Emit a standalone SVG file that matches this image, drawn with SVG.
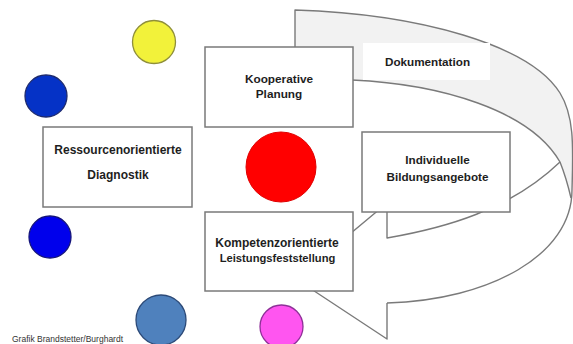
<svg xmlns="http://www.w3.org/2000/svg" width="573" height="344" viewBox="0 0 573 344">
  <style>
    .line { fill: none; stroke: #7a7a7a; stroke-width: 1.4; stroke-linejoin: round; }
    .box { fill: #ffffff; stroke: #7a7a7a; stroke-width: 1.5; }
    .lbl { font-family: "Liberation Sans", Arial, sans-serif; font-weight: bold; fill: #1e1e1e; text-anchor: middle; }
    .foot { font-family: "Liberation Sans", Arial, sans-serif; fill: #333333; font-size: 8.5px; }
  </style>
  <rect x="0" y="0" width="573" height="344" fill="#ffffff"/>

  <g id="connectors">
    <!-- back band (shaded) -->
    <path d="M295,10 C420,14 530,45 560,93 C575,117 573,150 572,190 L571,198 C568,185 564,172 560,162 C530,110 440,84 352,80 L295,80 Z" fill="#f2f2f2" stroke="none"/>
    <!-- outer edge of the curved arrow -->
    <path class="line" d="M295,47 L295,10 C420,14 530,45 560,93 C575,117 573,150 572,190 C572,255 490,300 387,303"/>
    <!-- inner edge of back band -->
    <path class="line" d="M352,80 C440,84 530,110 560,162 C564,172 568,185 571,198"/>
    <!-- front band upper edge and arrowhead -->
    <path class="line" d="M560,162 C510,210 445,228 387,238 L387,203 L296,279 L387,339 L387,303"/>
    <!-- Dokumentation label -->
    <g id="dokumentation">
      <rect x="363" y="43" width="127" height="37" fill="#ffffff"/>
      <text class="lbl" x="427.5" y="66" font-size="11.7">Dokumentation</text>
    </g>
  </g>

  <g id="ressourcen">
    <rect class="box" x="43" y="127" width="149" height="80"/>
    <text class="lbl" x="118" y="154" font-size="12">Ressourcenorientierte</text>
    <text class="lbl" x="118" y="179" font-size="12">Diagnostik</text>
  </g>

  <g id="kooperative">
    <rect class="box" x="205" y="47" width="148" height="80"/>
    <text class="lbl" x="279" y="82.5" font-size="11.8">Kooperative</text>
    <text class="lbl" x="279" y="97.5" font-size="11.8">Planung</text>
  </g>

  <g id="kompetenz">
    <rect class="box" x="205" y="212" width="148" height="79"/>
    <text class="lbl" x="277" y="247" font-size="12">Kompetenzorientierte</text>
    <text class="lbl" x="277.5" y="261.5" font-size="11.2">Leistungsfeststellung</text>
  </g>

  <g id="individuelle">
    <rect class="box" x="362" y="132" width="148" height="80"/>
    <text class="lbl" x="437.5" y="164" font-size="11.7">Individuelle</text>
    <text class="lbl" x="437.5" y="181" font-size="11.7">Bildungsangebote</text>
  </g>

  <g id="circle-yellow"><circle cx="154" cy="42" r="21.5" fill="#f2f23a" stroke="#8f8f3a" stroke-width="1.3"/></g>
  <g id="circle-darkblue"><circle cx="46" cy="96" r="21" fill="#0532c6" stroke="#1d2a6e" stroke-width="1.3"/></g>
  <g id="circle-blue"><circle cx="50" cy="237" r="21" fill="#0000ec" stroke="#14147a" stroke-width="1.3"/></g>
  <g id="circle-red"><circle cx="281" cy="167" r="35" fill="#ff0000" stroke="#e00000" stroke-width="1"/></g>
  <g id="circle-steelblue"><circle cx="161" cy="320" r="25" fill="#4f81bd" stroke="#2c4a78" stroke-width="1.3"/></g>
  <g id="circle-magenta"><circle cx="281.5" cy="326.5" r="21.5" fill="#ff55f0" stroke="#8e3098" stroke-width="1.3"/></g>

  <text class="foot" x="12" y="342">Grafik Brandstetter/Burghardt</text>
</svg>
